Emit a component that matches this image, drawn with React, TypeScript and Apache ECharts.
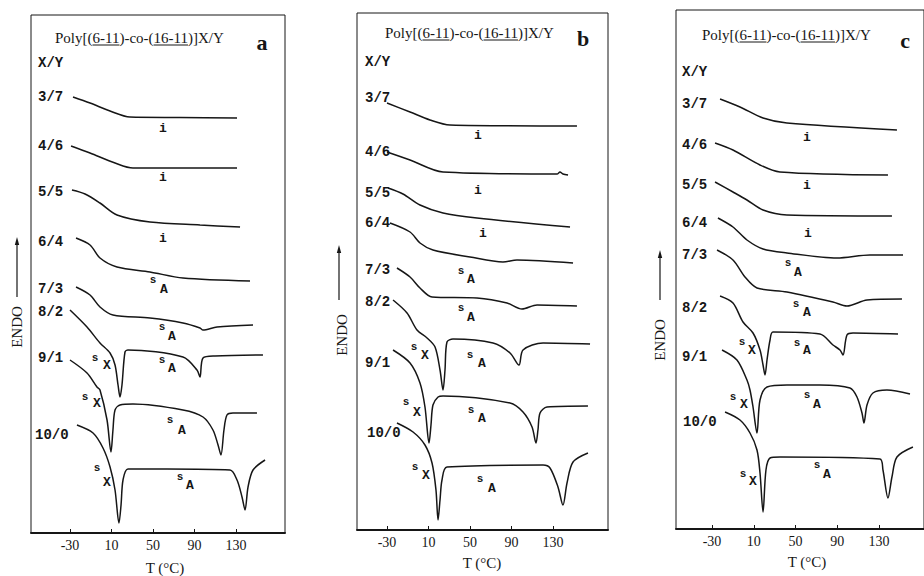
import React, { useEffect, useRef } from "react";
import * as echarts from "echarts";

// ---------- data ----------
const TICKS = [-30, 10, 50, 90, 130];
const RATIOS = ["3/7", "4/6", "5/5", "6/4", "7/3", "8/2", "9/1", "10/0"];
const TITLE = "Poly[(6-11)-co-(16-11)]X/Y";
const X_NAME = "T (°C)";
const Y_NAME = "ENDO";

// Panel a : [T (°C), heat flow, arbitrary units with offsets]
const A37 = [[-27.1, 436], [-10.7, 430], [8.6, 422], [27.8, 416], [76, 415.5], [131.0, 415]];
const A46 = [[-29.0, 387], [-10.7, 380], [13.4, 370], [30.7, 365], [131.0, 365]];
const A55 = [[-28.1, 343], [-15.5, 339], [-1.1, 330], [15.3, 318], [47.1, 311], [95.3, 308], [133.9, 306]];
const A64 = [[-24.2, 295], [-10.7, 288], [-1.1, 275], [15.3, 266], [47.1, 261], [78.9, 255], [143.5, 252]];
const A73 = [[-24.2, 246], [-10.7, 238], [-1.1, 226], [11.4, 218], [47.1, 215], [78.9, 210], [95.3, 205], [98.2, 203], [111.7, 206], [146.4, 208]];
const A82 = [[-30, 223], [-13.6, 206], [-1.1, 190], [8.6, 180], [13.4, 168], [16.3, 148], [18.2, 136], [20.1, 148], [23.0, 181], [25.9, 183], [78.9, 176], [92.4, 163], [95.3, 156], [98.2, 175], [109.8, 177], [156.0, 178]];
const A91 = [[-30, 173], [-13.6, 160], [-4.0, 146], [-1.1, 143], [5.7, 113], [9.5, 81], [11.4, 103], [13.4, 123], [18.2, 128], [30.7, 129], [78.9, 123], [98.2, 116], [107.8, 103], [112.7, 88], [115.5, 78], [118.4, 103], [121.3, 118], [127.1, 120], [150.2, 120]];
const A100 = [[-23.3, 108], [-7.8, 100], [1.8, 85], [8.6, 66], [13.4, 43], [17.2, 10], [19.2, 28], [21.1, 53], [25.9, 64], [63.5, 64], [124.2, 63], [131.0, 53], [135.8, 36], [138.7, 23], [141.6, 46], [146.4, 63], [158.0, 73]];

// Panel b
const B37 = [[-30, 427], [-7.8, 418], [11.4, 410], [30.7, 405], [153.1, 404]];
const B46 = [[-30, 378], [-7.8, 370], [24.0, 358], [133.9, 356], [136.7, 358], [139.6, 356], [144.5, 355]];
const B55 = [[-29.0, 342], [-14.6, 336], [1.8, 325], [24.0, 317], [56.7, 312], [146.4, 303]];
const B64 = [[-27.1, 307], [-7.8, 298], [1.8, 287], [14.3, 280], [50.0, 273], [81.8, 268], [95.3, 270], [149.3, 267]];
const B73 = [[-20.4, 262], [-7.8, 253], [1.8, 242], [13.4, 233], [56.7, 232], [85.7, 227], [100.1, 221], [114.6, 225], [153.1, 224]];
const B82 = [[-24.2, 230], [-10.7, 217], [-1.1, 200], [8.6, 192], [16.3, 183], [21.1, 160], [24.0, 140], [25.9, 160], [27.8, 188], [33.6, 191], [72.2, 187], [88.6, 177], [97.2, 165], [101.1, 180], [120.4, 187], [165.7, 186]];
const B91 = [[-24.2, 180], [-7.8, 167], [1.8, 147], [6.6, 123], [10.5, 87], [12.4, 105], [14.3, 125], [19.2, 133], [24.0, 134], [88.6, 127], [101.1, 118], [109.8, 103], [113.6, 87], [115.5, 100], [117.5, 117], [124.2, 123], [163.7, 124]];
const B100 = [[-20.4, 107], [-4.9, 98], [6.6, 85], [13.4, 67], [17.2, 40], [19.2, 10], [21.1, 30], [23.0, 50], [27.8, 63], [120.4, 65], [127.1, 62], [134.8, 43], [139.6, 25], [143.5, 47], [149.3, 68], [163.7, 77]];

// Panel c
const C37 = [[-22.3, 430], [-3.2, 422], [18.9, 411], [41.8, 406], [147.2, 399]];
const C46 = [[-27.1, 386], [-9.9, 379], [16.0, 364], [35.1, 357], [138.6, 354]];
const C55 = [[-27.1, 347], [-9.9, 337], [3.5, 329], [18.9, 319], [41.8, 314], [142.4, 313]];
const C64 = [[-24.3, 311], [-9.9, 302], [3.5, 289], [18.9, 280], [41.8, 276], [89.7, 271], [121.3, 274], [153.0, 274]];
const C73 = [[-25.2, 279], [-9.9, 269], [1.6, 252], [13.1, 241], [41.8, 237], [85.9, 227], [99.3, 223], [118.5, 229], [152.0, 230]];
const C82 = [[-22.3, 233], [-9.9, 226], [-0.3, 207], [9.3, 196], [16.0, 179], [18.9, 164], [20.8, 154], [22.7, 169], [25.6, 189], [28.4, 197], [73.4, 195], [85.9, 184], [92.6, 179], [95.5, 174], [99.3, 194], [105.1, 196], [148.2, 195]];
const C91 = [[-20.4, 179], [-6.1, 169], [3.5, 149], [6.4, 139], [9.3, 122], [13.1, 96], [16.0, 129], [22.7, 142], [41.8, 144], [73.4, 144], [102.2, 141], [108.9, 132], [113.7, 116], [115.6, 106], [118.5, 124], [124.2, 136], [137.6, 139], [159.7, 135]];
const C100 = [[-17.5, 117], [-3.2, 109], [6.4, 96], [13.1, 79], [16.0, 56], [18.9, 17], [21.7, 59], [25.6, 71], [35.1, 72], [130.9, 70], [133.8, 59], [138.6, 31], [142.4, 52], [147.2, 72], [162.5, 82]];

// ---------- layout ----------
const INK = "#161616";
const MONO = "'Liberation Mono', 'DejaVu Sans Mono', monospace";
const SERIF = "'Liberation Serif', 'DejaVu Serif', serif";

type Sub = [string, number, number, number, number];
const PANELS = [
  {
    key: "a",
    grid: { left: 31, top: 15, width: 254, height: 518 },
    xMin: -67.59, xMax: 177.23,
    curves: [A37, A46, A55, A64, A73, A82, A91, A100],
    title: [55, 38], letter: [262, 42],
    ratioX: 38, ratioX10: 35, xyY: 63,
    ratioY: [97, 146, 192, 242, 289, 312, 358, 435],
    iPos: [[163, 128], [163, 177], [163, 238]],
    subs: [
      ["A", 153, 280, 164, 289], ["A", 162, 327, 172, 336],
      ["X", 95, 358, 107, 365], ["A", 162, 360, 172, 368],
      ["X", 85, 397, 97, 403], ["A", 170, 420, 182, 430],
      ["X", 97, 468, 107, 482], ["A", 180, 477, 190, 485],
    ] as Sub[],
    xName: [165, 568], endo: [17, 327], arrow: [17, 297, 240],
  },
  {
    key: "b",
    grid: { left: 357, top: 13, width: 251, height: 517 },
    xMin: -58.92, xMax: 183.01,
    curves: [B37, B46, B55, B64, B73, B82, B91, B100],
    title: [385, 33], letter: [583, 38],
    ratioX: 365, ratioX10: 367, xyY: 62,
    ratioY: [98, 152, 193, 223, 270, 302, 363, 433],
    iPos: [[478, 135], [478, 190], [483, 233]],
    subs: [
      ["A", 461, 271, 471, 279], ["A", 461, 308, 471, 317],
      ["X", 414, 347, 425, 355], ["A", 470, 355, 482, 363],
      ["X", 406, 402, 417, 412], ["A", 471, 410, 482, 418],
      ["X", 415, 467, 426, 475], ["A", 480, 479, 492, 488],
    ] as Sub[],
    xName: [482, 563], endo: [342, 335], arrow: [339, 300, 248],
  },
  {
    key: "c",
    grid: { left: 676, top: 10, width: 248, height: 519 },
    xMin: -64.49, xMax: 173.11,
    curves: [C37, C46, C55, C64, C73, C82, C91, C100],
    title: [702, 35], letter: [905, 40],
    ratioX: 682, ratioX10: 683, xyY: 72,
    ratioY: [104, 145, 185, 223, 255, 308, 357, 422],
    iPos: [[807, 137], [807, 185], [808, 233]],
    subs: [
      ["A", 788, 263, 798, 272], ["A", 796, 304, 807, 312],
      ["X", 742, 342, 752, 350], ["A", 797, 343, 807, 350],
      ["X", 733, 397, 744, 404], ["A", 807, 395, 817, 404],
      ["X", 743, 474, 753, 481], ["A", 817, 465, 827, 474],
    ] as Sub[],
    xName: [807, 562], endo: [660, 340], arrow: [660, 300, 253],
  },
];

function txt(text: string, x: number, y: number, font: string, align = "left", rotation = 0) {
  return {
    type: "text",
    x, y, rotation, silent: true,
    style: { text, font, fill: INK, align, verticalAlign: "middle", textAlign: align, textVerticalAlign: "middle" },
  };
}

export default function App() {
  const ref = useRef<HTMLDivElement>(null);
  useEffect(() => {
    document.body.style.margin = "0";
    const chart = echarts.init(ref.current!, null, { renderer: "svg" });
    const titleFont = `15px ${SERIF}`;
    const ctx = document.createElement("canvas").getContext("2d")!;
    ctx.font = titleFont;
    const w = (s: string) => ctx.measureText(s).width;

    const grids: any[] = [];
    const xAxes: any[] = [];
    const yAxes: any[] = [];
    const series: any[] = [];
    const graphics: any[] = [];

    PANELS.forEach((p, i) => {
      grids.push({ ...p.grid, show: true, borderColor: INK, borderWidth: 1, backgroundColor: "transparent", containLabel: false, outerBoundsMode: "none" });
      xAxes.push({
        type: "value", gridIndex: i, min: p.xMin, max: p.xMax,
        splitLine: { show: false },
        axisLine: { show: true, onZero: false, lineStyle: { color: INK, width: 2 } },
        axisTick: { show: true, inside: true, length: 4, customValues: TICKS, lineStyle: { color: INK, width: 1 } },
        axisLabel: { show: true, customValues: TICKS, margin: 5, color: INK, fontFamily: SERIF, fontSize: 14, showMinLabel: true, showMaxLabel: true },
      });
      yAxes.push({ type: "value", gridIndex: i, min: 0, max: p.grid.height, show: false, splitLine: { show: false } });
      p.curves.forEach((c, j) => {
        series.push({
          type: "line", name: `${p.key} ${RATIOS[j]}`, xAxisIndex: i, yAxisIndex: i, data: c,
          showSymbol: false, symbol: "none", smooth: 0.3, silent: true,
          lineStyle: { color: INK, width: 1.5 },
        });
      });

      // title with underlines
      const [tx, ty] = p.title;
      graphics.push(txt(TITLE, tx, ty, titleFont));
      const ul = [["Poly[(", "Poly[(6-11"], ["Poly[(6-11)-co-(", "Poly[(6-11)-co-(16-11"]];
      ul.forEach(([s0, s1]) => {
        graphics.push({ type: "line", silent: true, shape: { x1: tx + w(s0), y1: ty + 7, x2: tx + w(s1), y2: ty + 7 }, style: { stroke: INK, lineWidth: 1 } });
      });
      graphics.push(txt(p.key, p.letter[0], p.letter[1], `bold 22px ${SERIF}`, "center"));

      // ratio labels
      const mono = `bold 14px ${MONO}`;
      graphics.push(txt("X/Y", p.ratioX, p.xyY, mono));
      RATIOS.forEach((r, j) => graphics.push(txt(r, j === 7 ? p.ratioX10 : p.ratioX, p.ratioY[j], mono)));

      // phase labels
      p.iPos.forEach(([x, y]) => graphics.push(txt("i", x, y, `bold 13px ${MONO}`, "center")));
      p.subs.forEach(([L, sx, sy, lx, ly]) => {
        graphics.push(txt("s", sx, sy, `bold 11px ${MONO}`, "center"));
        graphics.push(txt(L, lx, ly, `bold 13px ${MONO}`, "center"));
      });

      // axis names
      graphics.push(txt(X_NAME, p.xName[0], p.xName[1], `15px ${SERIF}`, "center"));
      graphics.push(txt(Y_NAME, p.endo[0], p.endo[1], `15px ${SERIF}`, "center", Math.PI / 2));
      const [ax, ay1, ay2] = p.arrow;
      graphics.push({ type: "line", silent: true, shape: { x1: ax, y1: ay1, x2: ax, y2: ay2 + 3 }, style: { stroke: INK, lineWidth: 1.2 } });
      graphics.push({ type: "polygon", silent: true, shape: { points: [[ax, ay2 - 3], [ax - 2.2, ay2 + 5], [ax + 2.2, ay2 + 5]] }, style: { fill: INK } });
    });

    chart.setOption({
      animation: false,
      backgroundColor: "#ffffff",
      grid: grids,
      xAxis: xAxes,
      yAxis: yAxes,
      series,
      graphic: { elements: graphics },
    });
    return () => chart.dispose();
  }, []);
  return <div ref={ref} style={{ width: 924, height: 576 }} />;
}
